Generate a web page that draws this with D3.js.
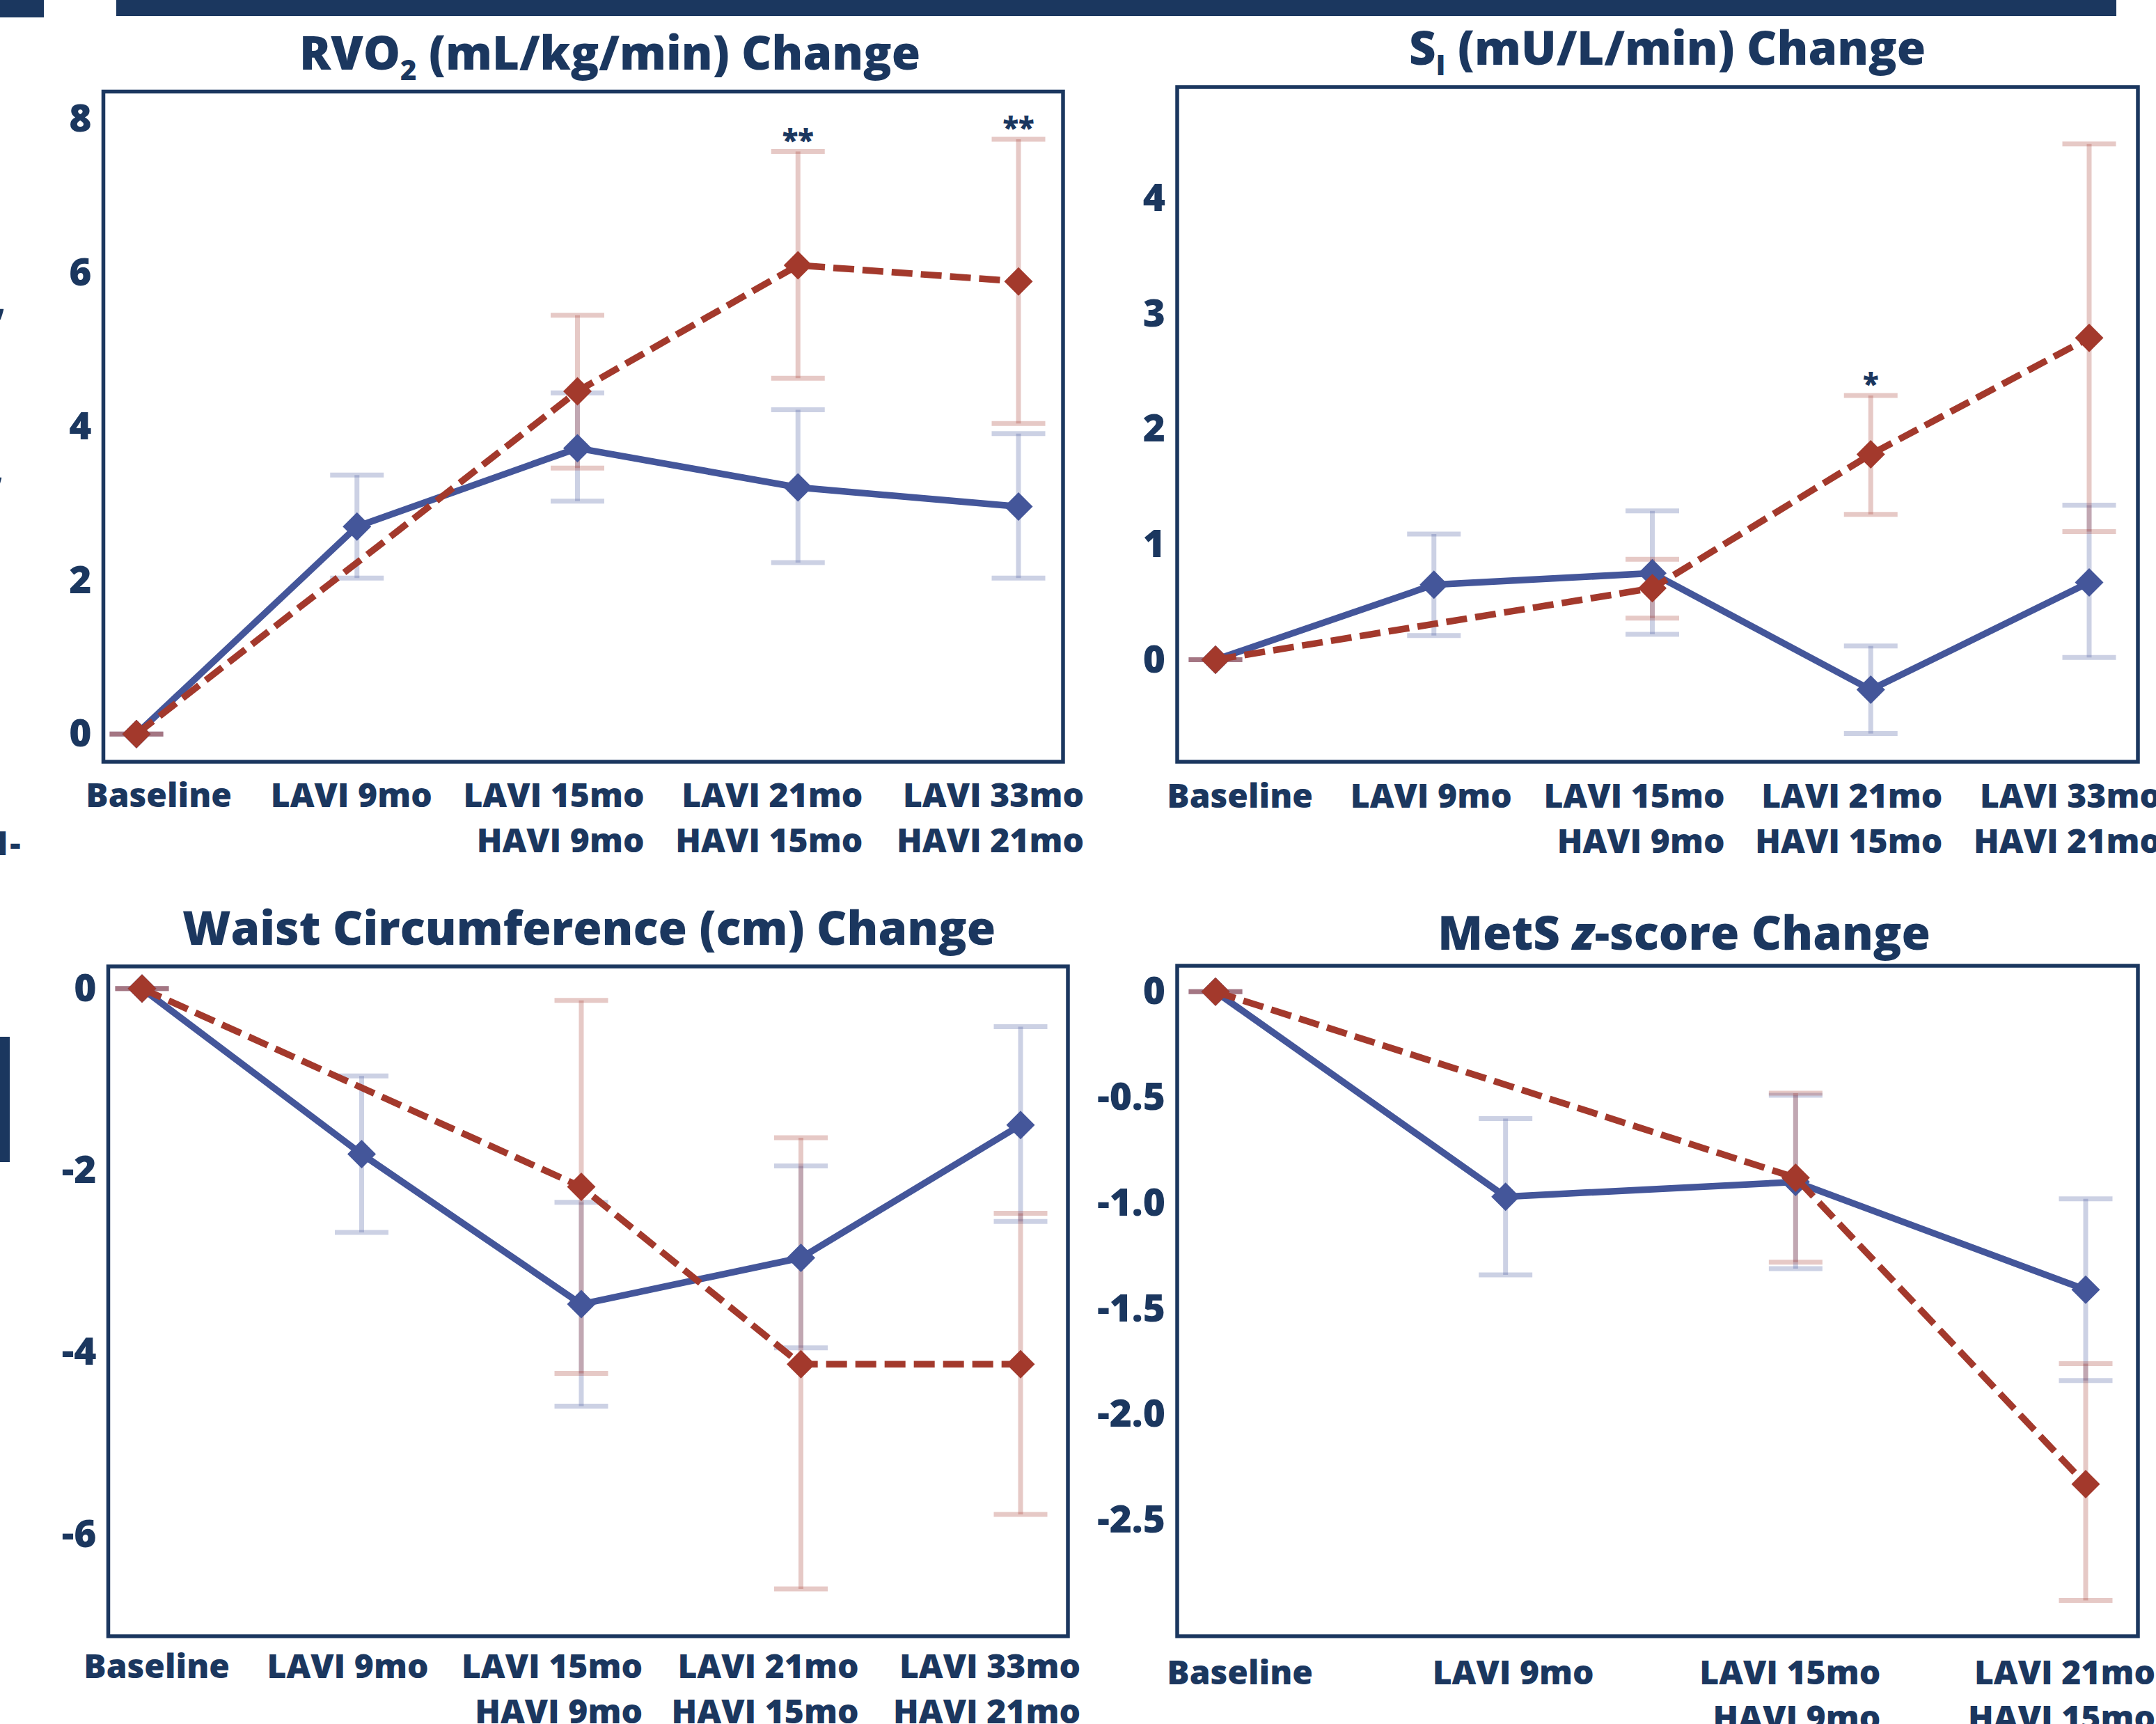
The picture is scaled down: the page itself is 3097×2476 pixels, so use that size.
<!DOCTYPE html>
<html><head><meta charset="utf-8">
<script src="https://cdn.jsdelivr.net/npm/d3@7"></script>
<style>
html,body{margin:0;padding:0;background:#fff;}
svg{display:block;}
text{font-family:"Open Sans",sans-serif;font-weight:800;fill:#1b375f;}
</style></head><body>
<svg id="chart" width="3097" height="2476"></svg>
<script>
// ---------- data ----------
const categories = ["Baseline", "LAVI 9mo", "LAVI 15mo\nHAVI 9mo", "LAVI 21mo\nHAVI 15mo", "LAVI 33mo\nHAVI 21mo"];
const metsCategories = ["Baseline", "LAVI 9mo", "LAVI 15mo\nHAVI 9mo", "LAVI 21mo\nHAVI 15mo"];

// RVO2 (mL/kg/min) change
const rvo2Lavi   = [0, 2.70, 3.72, 3.21, 2.96];
const rvo2LaviLo = [0, 2.03, 3.03, 2.23, 2.03];
const rvo2LaviHi = [0, 3.37, 4.44, 4.22, 3.91];
const rvo2Havi   = [0, null, 4.46, 6.10, 5.89];
const rvo2HaviLo = [0, null, 3.46, 4.63, 4.04];
const rvo2HaviHi = [0, null, 5.45, 7.58, 7.74];
const rvo2Stars  = [null, null, null, "**", "**"];
const rvo2Ticks  = [0, 2, 4, 6, 8];
const rvo2TickLabels = ["0", "2", "4", "6", "8"];

// SI (mU/L/min) change
const siLavi   = [0, 0.65, 0.75, -0.26, 0.67];
const siLaviLo = [0, 0.21, 0.22, -0.64, 0.02];
const siLaviHi = [0, 1.09, 1.29, 0.12, 1.34];
const siHavi   = [0, null, 0.62, 1.78, 2.79];
const siHaviLo = [0, null, 0.36, 1.26, 1.11];
const siHaviHi = [0, null, 0.87, 2.29, 4.47];
const siStars  = [null, null, null, "*", null];
const siTicks  = [0, 1, 2, 3, 4];
const siTickLabels = ["0", "1", "2", "3", "4"];

// Waist circumference (cm) change
const waistLavi   = [0, -1.82, -3.47, -2.96, -1.50];
const waistLaviLo = [0, -2.68, -4.59, -3.95, -2.56];
const waistLaviHi = [0, -0.96, -2.35, -1.95, -0.42];
const waistHavi   = [0, null, -2.18, -4.13, -4.13];
const waistHaviLo = [0, null, -4.23, -6.60, -5.78];
const waistHaviHi = [0, null, -0.13, -1.64, -2.47];
const waistStars  = [null, null, null, null, null];
const waistTicks  = [0, -2, -4, -6];
const waistTickLabels = ["0", "-2", "-4", "-6"];

// MetS z-score change
const metsLavi   = [0, -0.97, -0.90, -1.41];
const metsLaviLo = [0, -1.34, -1.31, -1.84];
const metsLaviHi = [0, -0.60, -0.49, -0.98];
const metsHavi   = [0, null, -0.88, -2.33];
const metsHaviLo = [0, null, -1.28, -2.88];
const metsHaviHi = [0, null, -0.48, -1.76];
const metsStars  = [null, null, null, null];
const metsTicks  = [0, -0.5, -1.0, -1.5, -2.0, -2.5];
const metsTickLabels = ["0", "-0.5", "-1.0", "-1.5", "-2.0", "-2.5"];

// ---------- style ----------
const NAVY = "#1b375f", BLUE = "#44569a", RED = "#a3392c";
const svg = d3.select("#chart");

// decorative fragments of the surrounding figure (cropped in the original)
svg.append("rect").attr("x", 0).attr("y", 0).attr("width", 63).attr("height", 25).attr("fill", NAVY);
svg.append("rect").attr("x", 167).attr("y", 0).attr("width", 2873).attr("height", 23).attr("fill", NAVY);
svg.append("rect").attr("x", 0).attr("y", 1489).attr("width", 14).attr("height", 180).attr("fill", NAVY);
svg.append("text").attr("x", -8).attr("y", 452).attr("font-size", 53).text(",");
svg.append("text").attr("x", -11).attr("y", 694).attr("font-size", 53).text(",");
svg.append("text").attr("x", -14).attr("y", 1228).attr("font-size", 48).text("1-");

function drawPanel(cfg) {
  const L = cfg.layout;
  const g = svg.append("g");
  const x = d3.scalePoint().domain(cfg.cats).range(L.xRange);
  const y = d3.scaleLinear().domain(L.yDomain).range([L.y1, L.y0]);

  // title
  const t = g.append("text").attr("x", L.titleX).attr("y", L.titleY)
    .attr("text-anchor", "middle").attr("font-size", 67).attr("font-weight", 700);
  cfg.title.forEach(p => {
    const ts = t.append("tspan").text(p.t);
    if (p.sub) ts.attr("font-size", 40).attr("dy", 15);
    if (p.after) ts.attr("dy", -15);
    if (p.italic) ts.attr("font-style", "italic");
  });

  // y axis labels
  const ax = g.append("g").attr("transform", `translate(${L.x0},0)`)
    .call(d3.axisLeft(y).tickValues(cfg.ticks).tickFormat((d, i) => cfg.tickLabels[i])
      .tickSize(0).tickPadding(17));
  ax.select(".domain").remove();
  ax.attr("font-size", 55);

  // x labels (lines right-aligned within each label)
  cfg.cats.forEach((c, i) => {
    const lines = c.split("\n");
    const tx = g.append("text").attr("text-anchor", "end").attr("font-size", 48);
    lines.forEach((ln, j) => {
      tx.append("tspan").attr("x", x(c) + L.labelDx[i]).attr("y", L.y1 + L.labelGap + j * 65).text(ln);
    });
  });

  const series = [
    {m: cfg.lavi, lo: cfg.laviLo, hi: cfg.laviHi, color: BLUE, dash: null},
    {m: cfg.havi, lo: cfg.haviLo, hi: cfg.haviHi, color: RED, dash: "30,12"}
  ];

  // error bars
  series.forEach(s => {
    const eg = g.append("g").attr("stroke", s.color).attr("stroke-opacity", 0.27).attr("stroke-width", 7);
    cfg.cats.forEach((c, i) => {
      if (s.m[i] === null) return;
      const cx = x(c);
      if (s.hi[i] !== s.lo[i]) {
        eg.append("line").attr("x1", cx).attr("x2", cx).attr("y1", y(s.lo[i])).attr("y2", y(s.hi[i]));
      }
      [s.lo[i], s.hi[i]].forEach(v => {
        eg.append("line").attr("x1", cx - 38.5).attr("x2", cx + 38.5).attr("y1", y(v)).attr("y2", y(v));
      });
    });
  });

  // lines and markers
  series.forEach(s => {
    const pts = cfg.cats.map((c, i) => ({c, v: s.m[i]})).filter(d => d.v !== null);
    const line = d3.line().x(d => x(d.c)).y(d => y(d.v));
    g.append("path").attr("d", line(pts)).attr("fill", "none").attr("stroke", s.color)
      .attr("stroke-width", 9.5).attr("stroke-dasharray", s.dash).attr("stroke-linejoin", "round");
    const sym = d3.symbol().type(d3.symbolSquare).size(840);
    g.selectAll(null).data(pts).join("path")
      .attr("d", sym).attr("fill", s.color)
      .attr("transform", d => `translate(${x(d.c)},${y(d.v)}) rotate(45)`);
  });

  // significance stars
  cfg.stars.forEach((st, i) => {
    if (!st) return;
    g.append("text").attr("x", x(cfg.cats[i])).attr("y", y(cfg.haviHi[i]) - 2)
      .attr("text-anchor", "middle").attr("font-size", 42).text(st);
  });

  // frame
  g.append("rect").attr("x", L.x0).attr("y", L.y0).attr("width", L.x1 - L.x0).attr("height", L.y1 - L.y0)
    .attr("fill", "none").attr("stroke", NAVY).attr("stroke-width", 5.5);
}

drawPanel({
  title: [{t: "RVO"}, {t: "2", sub: true}, {t: " (mL/kg/min) Change", after: true}],
  cats: categories, lavi: rvo2Lavi, laviLo: rvo2LaviLo, laviHi: rvo2LaviHi,
  havi: rvo2Havi, haviLo: rvo2HaviLo, haviHi: rvo2HaviHi, stars: rvo2Stars,
  ticks: rvo2Ticks, tickLabels: rvo2TickLabels,
  layout: {x0: 148.5, y0: 131.5, x1: 1527, y1: 1094, xRange: [196, 1463], yDomain: [-0.36, 8.36],
           titleX: 876, titleY: 100, labelGap: 65, labelDx: [137, 108, 96, 93, 94]}
});
drawPanel({
  title: [{t: "S"}, {t: "I", sub: true}, {t: " (mU/L/min) Change", after: true}],
  cats: categories, lavi: siLavi, laviLo: siLaviLo, laviHi: siLaviHi,
  havi: siHavi, haviLo: siHaviLo, haviHi: siHaviHi, stars: siStars,
  ticks: siTicks, tickLabels: siTickLabels,
  layout: {x0: 1691, y0: 125, x1: 3071, y1: 1094, xRange: [1746, 3001], yDomain: [-0.884, 4.964],
           titleX: 2395, titleY: 93, labelGap: 66, labelDx: [140, 112, 104, 103, 103]}
});
drawPanel({
  title: [{t: "Waist Circumference (cm) Change"}],
  cats: categories, lavi: waistLavi, laviLo: waistLaviLo, laviHi: waistLaviHi,
  havi: waistHavi, haviLo: waistHaviLo, haviHi: waistHaviHi, stars: waistStars,
  ticks: waistTicks, tickLabels: waistTickLabels,
  layout: {x0: 155.5, y0: 1388, x1: 1534, y1: 2350, xRange: [204, 1466], yDomain: [-7.12, 0.243],
           titleX: 846, titleY: 1357, labelGap: 60, labelDx: [126, 96, 88, 83, 86]}
});
drawPanel({
  title: [{t: "MetS "}, {t: "z", italic: true}, {t: "-score Change"}],
  cats: metsCategories, lavi: metsLavi, laviLo: metsLaviLo, laviHi: metsLaviHi,
  havi: metsHavi, haviLo: metsHaviLo, haviHi: metsHaviHi, stars: metsStars,
  ticks: metsTicks, tickLabels: metsTickLabels,
  layout: {x0: 1691, y0: 1387, x1: 3071, y1: 2350, xRange: [1746, 2996], yDomain: [-3.05, 0.123],
           titleX: 2419, titleY: 1364, labelGap: 69, labelDx: [140, 127, 122, 100]}
});
</script>
</body></html>
